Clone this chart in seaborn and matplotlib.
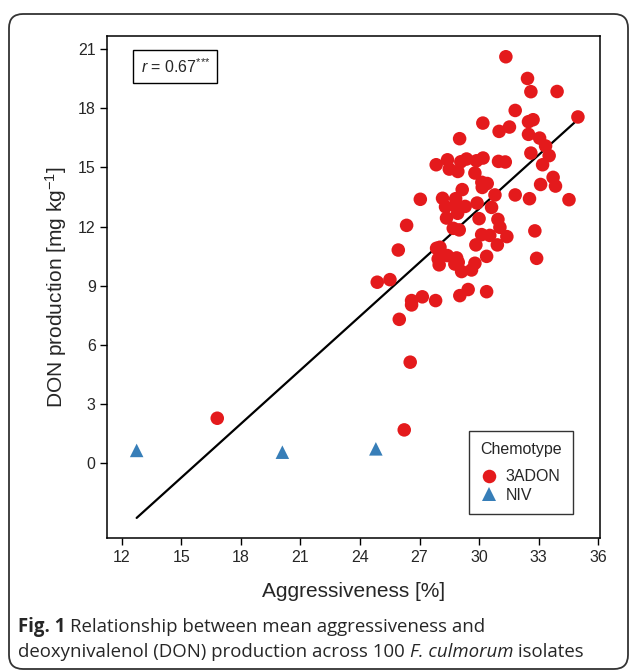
import matplotlib
matplotlib.use("Agg")
import matplotlib.pyplot as plt
import seaborn as sns
import pandas as pd
import numpy as np
from matplotlib.patches import FancyBboxPatch

# ---- data ----
adon_x = [31.35, 32.44, 32.61, 33.93, 31.82, 30.19, 32.49, 32.72, 34.98, 31.01,
          31.53, 29.02, 32.49, 33.05, 33.35, 32.61, 33.53, 33.20, 27.84, 28.41,
          29.08, 29.37, 29.87, 30.20, 28.50, 28.93, 30.98, 31.32, 29.79, 33.73,
          33.85, 33.10, 30.14, 30.41, 30.16, 29.15, 30.80, 31.82, 32.54, 34.53,
          27.04, 28.16, 28.82, 28.31, 28.82, 29.30, 29.90, 28.36, 28.92, 30.00,
          30.63, 30.95, 31.05, 26.35, 28.70, 29.00, 32.81, 30.13, 30.54, 31.40,
          29.84, 30.92, 25.93, 27.86, 28.03, 32.90, 30.38, 27.94, 27.99, 28.40,
          28.87, 28.95, 28.78, 29.79, 29.62, 29.12, 24.87, 25.51, 29.45, 29.03,
          30.38, 27.14, 27.81, 26.60, 26.60, 25.98, 26.53, 16.81, 26.23]
adon_y = [20.60, 19.50, 18.83, 18.84, 17.88, 17.24, 17.31, 17.41, 17.55, 16.82,
          17.04, 16.45, 16.67, 16.48, 16.08, 15.72, 15.59, 15.13, 15.13, 15.38,
          15.28, 15.42, 15.33, 15.47, 14.91, 14.79, 15.30, 15.27, 14.71, 14.49,
          14.05, 14.13, 14.24, 14.18, 13.98, 13.87, 13.60, 13.60, 13.41, 13.36,
          13.38, 13.43, 13.41, 13.00, 13.02, 13.02, 13.19, 12.43, 12.67, 12.40,
          12.97, 12.36, 11.96, 12.06, 11.91, 11.83, 11.78, 11.59, 11.55, 11.49,
          11.07, 11.07, 10.81, 10.90, 10.95, 10.39, 10.49, 10.36, 10.06, 10.53,
          10.41, 10.19, 10.10, 10.14, 9.80, 9.72, 9.18, 9.31, 8.81, 8.50,
          8.70, 8.44, 8.25, 8.25, 8.03, 7.30, 5.13, 2.29, 1.70]
niv_x = [12.75, 20.09, 24.80]
niv_y = [0.66, 0.57, 0.74]
chemotypes = ["3ADON", "NIV"]
x_ticks = [12, 15, 18, 21, 24, 27, 30, 33, 36]
y_ticks = [0, 3, 6, 9, 12, 15, 18, 21]
r_text = "0.67"

df = pd.DataFrame({
    "Aggressiveness": adon_x + niv_x,
    "DON": adon_y + niv_y,
    "Chemotype": [chemotypes[0]] * len(adon_x) + [chemotypes[1]] * len(niv_x),
})

sns.set_style("ticks")
plt.rcParams["font.family"] = ["Liberation Sans", "DejaVu Sans"]
plt.rcParams["mathtext.fontset"] = "custom"
plt.rcParams["mathtext.rm"] = "Liberation Sans"
plt.rcParams["mathtext.it"] = "Liberation Sans:italic"

fig = plt.figure(figsize=(6.3, 6.72), dpi=100)
ax = fig.add_axes([0.1706, 0.1987, 0.7814, 0.7477])

# outer rounded panel
panel = FancyBboxPatch((9, 3), 619, 655, boxstyle="round,pad=0,rounding_size=14",
                       transform=None, fill=False, edgecolor="#333333", linewidth=1.3,
                       zorder=-10)
fig.patches.append(panel)

sns.regplot(data=df, x="Aggressiveness", y="DON", scatter=False, ci=None,
            truncate=True, color="black", line_kws={"linewidth": 1.6}, ax=ax)
sns.scatterplot(data=df, x="Aggressiveness", y="DON", hue="Chemotype", style="Chemotype",
                palette={"3ADON": "#E41A1C", "NIV": "#377EB8"},
                markers={"3ADON": "o", "NIV": "^"}, s=95, linewidth=0, ax=ax, zorder=3)

ax.set_xlim(11.28, 36.08)
ax.set_ylim(-3.8, 21.65)
ax.set_xticks(x_ticks)
ax.set_yticks(y_ticks)
ax.tick_params(axis="both", labelsize=11.5, length=5, width=1, direction="out", color="black")
for s in ax.spines.values():
    s.set_visible(True)
    s.set_linewidth(1.1)
    s.set_color("black")
ax.set_xlabel("Aggressiveness [%]", fontsize=15, labelpad=12)
ax.set_ylabel("DON production [mg kg$^{-1}$]", fontsize=15, labelpad=6)

# r annotation box
ax.text(0.138, 0.94, r"$\it{r}$ = " + r_text + r"$^{{*}{*}{*}}$", transform=ax.transAxes,
        fontsize=11.5, ha="center", va="center",
        bbox=dict(boxstyle="square,pad=0.45", facecolor="white", edgecolor="black", linewidth=1))

sns.move_legend(ax, loc="lower right", bbox_to_anchor=(0.945, 0.049), frameon=True,
                fancybox=False, edgecolor="black", title="Chemotype", fontsize=11.5,
                title_fontsize=11.5, borderpad=0.7, handlelength=1.0, handletextpad=0.5,
                borderaxespad=0, labelspacing=0.2, markerscale=1.0)
leg = ax.get_legend()
leg.get_frame().set_linewidth(1)
leg._legend_box.sep = 9

# caption
cap_font = ["Open Sans", "DejaVu Sans"]
fs = 13.4
fig.canvas.draw()
r = fig.canvas.get_renderer()
t1 = fig.text(18 / 630, 1 - 627 / 672, "Fig. 1", fontsize=fs, fontweight="bold",
              family=cap_font, va="center", ha="left")
bb = t1.get_window_extent(r)
fig.text(bb.x1 / 630 + 0.008, 1 - 627 / 672, "Relationship between mean aggressiveness and",
         fontsize=fs, family=cap_font, va="center", ha="left")
t3 = fig.text(18 / 630, 1 - 652 / 672, "deoxynivalenol (DON) production across 100 ",
              fontsize=fs, family=cap_font, va="center", ha="left")
bb3 = t3.get_window_extent(r)
t4 = fig.text(bb3.x1 / 630, 1 - 652 / 672, "F. culmorum", fontsize=fs, style="italic",
              family=cap_font, va="center", ha="left")
bb4 = t4.get_window_extent(r)
fig.text(bb4.x1 / 630, 1 - 652 / 672, " isolates", fontsize=fs, family=cap_font,
         va="center", ha="left")

fig.savefig("out.png", dpi=100)
